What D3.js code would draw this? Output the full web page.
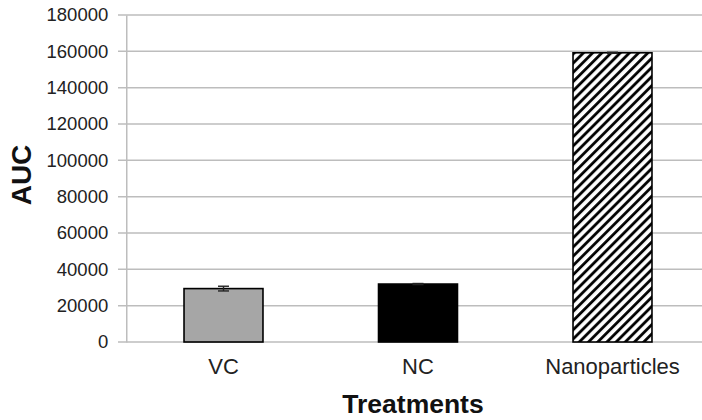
<!DOCTYPE html>
<html>
<head>
<meta charset="utf-8">
<script src="https://cdn.jsdelivr.net/npm/d3@7"></script>
<style>
  html, body { margin: 0; padding: 0; background: #fff; }
  svg { display: block; }
</style>
</head>
<body>
<svg id="chart" width="702" height="420"></svg>
<script>
const categories = ["VC", "NC", "Nanoparticles"];
const values = [29400, 31900, 159200];
const errors = [1300, 300, 300];
const yTicks = [0, 20000, 40000, 60000, 80000, 100000, 120000, 140000, 160000, 180000];
const xTitle = "Treatments";
const yTitle = "AUC";

(function () {
const svg = d3.select("#chart");
const W = 702, H = 420;
const pLeft = 126.25, pRight = 709.75, pTop = 15, pBottom = 342;

const defs = svg.append("defs");
const pat = defs.append("pattern")
  .attr("id", "hatch")
  .attr("patternUnits", "userSpaceOnUse")
  .attr("width", 6.5).attr("height", 6.5)
  .attr("patternTransform", "rotate(45)");
pat.append("rect").attr("width", 6.5).attr("height", 6.5).attr("fill", "#fff");
pat.append("line").attr("x1", 1.5).attr("y1", 0).attr("x2", 1.5).attr("y2", 6.5)
  .attr("stroke", "#000").attr("stroke-width", 2.8);

const x = d3.scaleBand().domain(categories).range([pLeft, pRight])
  .paddingInner(0.594).paddingOuter(0.297);
const y = d3.scaleLinear().domain([0, 180000]).range([pBottom, pTop]);

// gridlines
svg.append("g").selectAll("line").data(yTicks).join("line")
  .attr("x1", 118).attr("x2", W)
  .attr("y1", d => y(d)).attr("y2", d => y(d))
  .attr("stroke", "#bdbdbd").attr("stroke-width", 1.5);

// y axis
const yAxis = d3.axisLeft(y).tickValues(yTicks).tickSize(0).tickPadding(18)
  .tickFormat(d3.format("d"));
const gy = svg.append("g").attr("transform", `translate(${pLeft},0)`).call(yAxis);
gy.select(".domain").attr("stroke", "#bdbdbd").attr("stroke-width", 1.5);
gy.selectAll("text").attr("font-family", "Liberation Sans, Arial, sans-serif")
  .attr("font-size", 18.5).attr("fill", "#222");

// bars
const fills = ["#a6a6a6", "#000000", "url(#hatch)"];
svg.append("g").selectAll("rect").data(categories).join("rect")
  .attr("x", d => x(d)).attr("width", x.bandwidth())
  .attr("y", (d, i) => y(values[i]))
  .attr("height", (d, i) => y(0) - y(values[i]))
  .attr("fill", (d, i) => fills[i])
  .attr("stroke", "#000").attr("stroke-width", 1.6);

// error bars
const eg = svg.append("g").attr("stroke", "#222").attr("stroke-width", 1.4);
categories.forEach((c, i) => {
  const cx = x(c) + x.bandwidth() / 2;
  const y1 = y(values[i] + errors[i]), y2 = y(values[i] - errors[i]);
  eg.append("line").attr("x1", cx).attr("x2", cx).attr("y1", y1).attr("y2", y2);
  eg.append("line").attr("x1", cx - 5.5).attr("x2", cx + 5.5).attr("y1", y1).attr("y2", y1);
  eg.append("line").attr("x1", cx - 5.5).attr("x2", cx + 5.5).attr("y1", y2).attr("y2", y2);
});

// x category labels
const xAxis = d3.axisBottom(x).tickSize(0).tickPadding(16);
const gx = svg.append("g").attr("transform", `translate(0,${pBottom})`).call(xAxis);
gx.select(".domain").remove();
gx.selectAll("text").attr("font-family", "Liberation Sans, Arial, sans-serif")
  .attr("font-size", 22).attr("fill", "#222");

// axis titles
svg.append("text").attr("x", 413).attr("y", 413).attr("text-anchor", "middle")
  .attr("font-family", "Liberation Sans, Arial, sans-serif").attr("font-weight", "bold")
  .attr("font-size", 26.5).attr("fill", "#111").text(xTitle);
svg.append("text").attr("transform", "translate(31,175) rotate(-90)")
  .attr("text-anchor", "middle")
  .attr("font-family", "Liberation Sans, Arial, sans-serif").attr("font-weight", "bold")
  .attr("font-size", 28).attr("fill", "#111").text(yTitle);
})();
</script>
</body>
</html>
